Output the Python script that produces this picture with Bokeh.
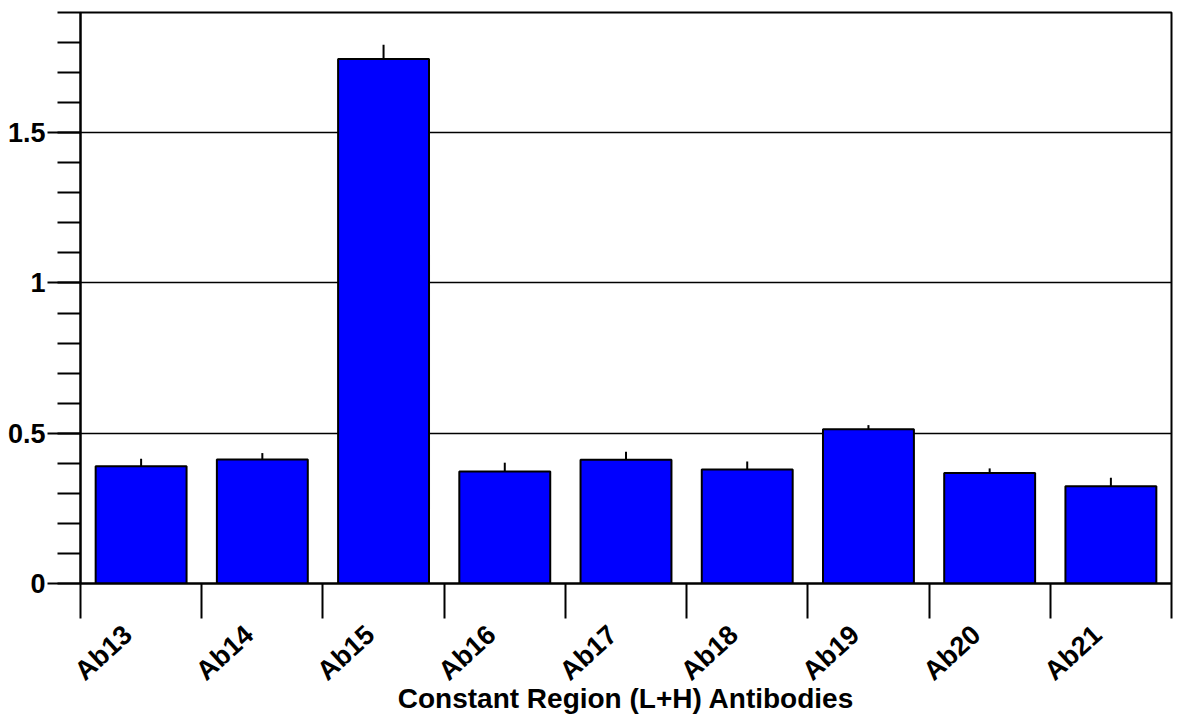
import numpy as np
from bokeh.plotting import figure
from bokeh.models import Range1d, FixedTicker, ColumnDataSource
from bokeh.embed import file_html
from bokeh.resources import INLINE

# ---- data ----
categories = ["Ab13", "Ab14", "Ab15", "Ab16", "Ab17", "Ab18", "Ab19", "Ab20", "Ab21"]
values = [0.390, 0.413, 1.745, 0.373, 0.412, 0.379, 0.513, 0.368, 0.324]
errors = [0.025, 0.021, 0.048, 0.029, 0.026, 0.027, 0.014, 0.015, 0.028]
y_ticks = [0, 0.5, 1, 1.5]
y_tick_labels = ["0", "0.5", "1", "1.5"]
x_axis_title = "Constant Region (L+H) Antibodies"

n = len(categories)
xc = np.arange(n) + 0.5
vals = np.array(values)
errs = np.array(errors)

src = ColumnDataSource(dict(x=xc, top=vals, etop=vals + errs, cat=categories))

FONT = "Liberation Sans"

p = figure(width=1177, height=717,
           x_range=Range1d(0, n), y_range=Range1d(0, 1.9),
           output_backend="svg", toolbar_location=None,
           min_border_left=80, min_border_right=6,
           min_border_top=12, min_border_bottom=133)

p.background_fill_color = "white"
p.border_fill_color = "white"
p.outline_line_color = "black"
p.outline_line_width = 2

# bars
p.vbar(x="x", top="top", bottom=0, width=0.75, source=src,
       fill_color="#0000FF", line_color="black", line_width=2)
# error bars (upper only, no caps)
p.segment(x0="x", y0="top", x1="x", y1="etop", source=src,
          line_color="black", line_width=2)

# grid
p.xgrid.visible = False
p.ygrid.ticker = FixedTicker(ticks=[t for t in y_ticks if t > 0])
p.ygrid.grid_line_color = "black"
p.ygrid.grid_line_width = 1.5

# y axis
yax = p.yaxis[0]
yax.ticker = FixedTicker(ticks=y_ticks, minor_ticks=[round(0.1 * k, 1) for k in range(20)])
yax.major_label_overrides = {t: l for t, l in zip(y_ticks, y_tick_labels)}
yax.major_tick_out = 33
yax.major_tick_in = 0
yax.minor_tick_out = 23
yax.minor_tick_in = 0
yax.major_tick_line_width = 2
yax.minor_tick_line_width = 2
yax.major_tick_line_color = "black"
yax.minor_tick_line_color = "black"
yax.axis_line_width = 2
yax.axis_line_color = "black"
yax.major_label_standoff = 2
yax.major_label_text_font = FONT
yax.major_label_text_font_style = "bold"
yax.major_label_text_font_size = "27px"
yax.major_label_text_color = "black"

# x axis: boundary ticks (minor, long) and category labels (major, no tick line)
label_pos = xc - 0.11
xax = p.xaxis[0]
xax.ticker = FixedTicker(ticks=list(label_pos), minor_ticks=list(np.arange(n + 1)))
xax.major_label_overrides = {float(x): c for x, c in zip(label_pos, categories)}
xax.major_tick_out = 0
xax.major_tick_in = 0
xax.minor_tick_out = 35
xax.minor_tick_in = 0
xax.minor_tick_line_width = 2
xax.minor_tick_line_color = "black"
xax.axis_line_width = 2
xax.axis_line_color = "black"
xax.major_label_orientation = 0.74
xax.major_label_standoff = 12
xax.major_label_text_font = FONT
xax.major_label_text_font_style = "bold"
xax.major_label_text_font_size = "27px"
xax.major_label_text_color = "black"
xax.axis_label = x_axis_title
xax.axis_label_text_font = FONT
xax.axis_label_text_font_style = "bold"
xax.axis_label_text_font_size = "28px"
xax.axis_label_text_color = "black"
xax.axis_label_standoff = -17

open("out.html", "w").write(file_html(p, INLINE))
